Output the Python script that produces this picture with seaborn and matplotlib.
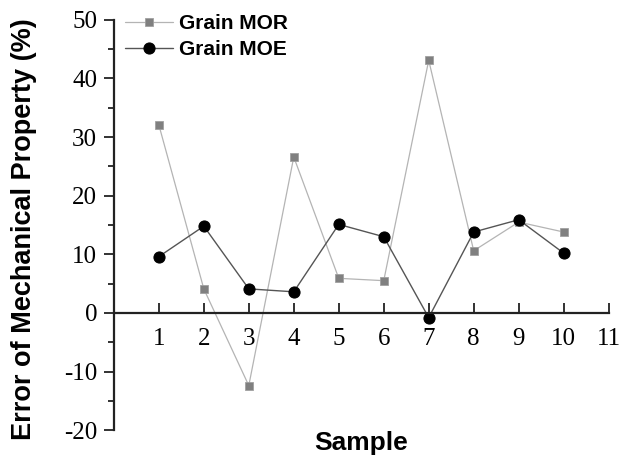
import numpy as np
import pandas as pd
import matplotlib
matplotlib.use('Agg')
import matplotlib.pyplot as plt
import seaborn as sns
from matplotlib.ticker import MultipleLocator

# valores
muestras = [1, 2, 3, 4, 5, 6, 7, 8, 9, 10]
error_mor = [32.1, 4.1, -12.4, 26.6, 5.9, 5.5, 43.1, 10.6, 15.5, 13.8]
error_moe = [9.6, 14.8, 4.1, 3.6, 15.1, 13.0, -0.8, 13.8, 15.9, 10.2]

df = pd.DataFrame({'Sample': muestras, 'MOR': error_mor, 'MOE': error_moe})

sns.set_style('ticks')
plt.rcParams['font.family'] = ['Liberation Sans', 'DejaVu Sans']
plt.rcParams['axes.unicode_minus'] = False
plt.rcParams['text.color'] = 'black'
plt.rcParams['axes.labelcolor'] = 'black'

fig = plt.figure(figsize=(6.36, 4.62), dpi=100)
ax = fig.add_axes([0.179, 0.069, 0.778, 0.888])

sns.lineplot(x='Sample', y='MOR', data=df, ax=ax, color='#b4b4b4', lw=0.9,
             marker='s', markersize=6, markerfacecolor='#808080',
             markeredgecolor='#a0a0a0', markeredgewidth=0.6, label='Grain MOR')
sns.lineplot(x='Sample', y='MOE', data=df, ax=ax, color='#555555', lw=1.0,
             marker='o', markersize=8, markerfacecolor='black',
             markeredgecolor='black', label='Grain MOE')

ax.set_xlim(0, 11)
ax.set_ylim(-20, 50)
ax.spines['top'].set_visible(False)
ax.spines['right'].set_visible(False)
ax.spines['bottom'].set_position(('data', 0))
for s in ['left', 'bottom']:
    ax.spines[s].set_linewidth(1.6)
    ax.spines[s].set_color('#222222')

ax.set_xticks(range(1, 12))
ax.yaxis.set_major_locator(MultipleLocator(10))
ax.yaxis.set_minor_locator(MultipleLocator(5))
ax.tick_params(axis='x', direction='in', length=7, width=1.3, color='#222222', pad=11)
ax.tick_params(axis='y', which='major', direction='out', length=7, width=1.3, color='#222222', pad=5)
ax.tick_params(axis='y', which='minor', direction='out', length=4, width=1.3, color='#222222')
for lab in ax.get_xticklabels() + ax.get_yticklabels():
    lab.set_fontfamily('Liberation Serif')
    lab.set_fontsize(18)
    lab.set_color('black')

ax.set_xlabel('Sample', fontsize=19, fontweight='bold')
ax.set_ylabel('Error of Mechanical Property (%)', fontsize=19.5, fontweight='bold')
ax.xaxis.set_label_coords(0.5, -0.002)
ax.yaxis.set_label_coords(-0.155, 0.49)

leg = ax.legend(loc='upper left', bbox_to_anchor=(-0.015, 1.06), frameon=False,
                prop={'family': 'Liberation Sans', 'weight': 'bold', 'size': 15},
                handlelength=2.3, handletextpad=0.3, labelspacing=0.35)

fig.savefig('out.png', dpi=100)
